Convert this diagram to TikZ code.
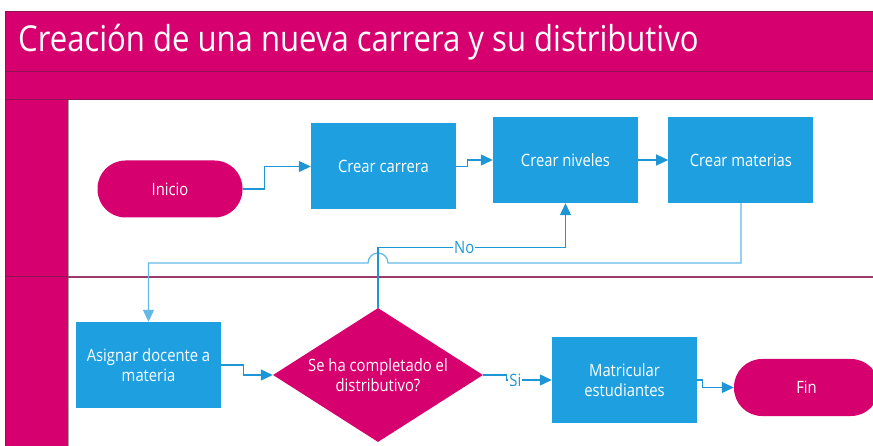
\documentclass[tikz,border=0pt]{standalone}
\usepackage{fontspec}
\setmainfont[FakeStretch=0.87]{Open Sans}
\usepackage{tikz}
\usetikzlibrary{shapes.geometric, arrows.meta, positioning, calc}

\definecolor{rosa}{HTML}{D6006E}
\definecolor{rosaosc}{HTML}{8A1450}
\definecolor{malva}{HTML}{9B3A6B}
\definecolor{azul}{HTML}{1EA0E0}
\definecolor{linea}{HTML}{1E96D6}
\definecolor{lineaclara}{HTML}{62B8E6}

\begin{document}
\begin{tikzpicture}[x=1pt, y=-1pt,
  proceso/.style={rectangle, fill=azul, minimum width=145pt, minimum height=86pt, text=white, align=center, font=\fontsize{17}{20}\selectfont},
  terminal/.style={rectangle, rounded corners=28pt, fill=rosa, minimum width=145pt, minimum height=57pt, text=white, font=\fontsize{17}{20}\selectfont},
  decision/.style={diamond, aspect=1.57, inner sep=0pt, fill=rosa, minimum width=210pt, minimum height=134pt, text=white, align=center, font=\fontsize{17}{20}\selectfont},
  flecha/.style={draw=linea, line width=1.2pt, -{Triangle[length=12pt, width=11pt]}},
  etiqueta/.style={fill=white, text=linea, inner sep=1pt, font=\fontsize{17}{20}\selectfont}]
\useasboundingbox (0,0) rectangle (873,446);

% Marco y carriles
\fill[rosa] (5,12) rectangle (880,100);
\fill[rosa] (5,100) rectangle (68,446);
\draw[rosaosc, line width=1pt] (5,12) -- (880,12) (5,72) -- (880,72) (5,100) -- (880,100) (5,12) -- (5,446);
\draw[gray!70] (68,100) -- (68,446);
\draw[malva, line width=2pt] (68,277) -- (880,277);
\draw[rosaosc, line width=1pt] (5,277) -- (68,277);
\node[anchor=base west, inner sep=0pt, text=white, font=\fontsize{35.7}{40}\selectfont] (titulo) at (18,52) {Creación de una nueva carrera y su distributivo};

% Nodos
\node[terminal] (inicio) at (170,189) {Inicio};
\node[proceso] (carrera) at (383.5,166.5) {Crear carrera};
\node[proceso] (niveles) at (565.5,160) {Crear niveles};
\node[proceso, right=30pt of niveles] (materias) {Crear materias};
\node[proceso] (asignar) at (148.5,365) {Asignar docente a\\materia};
\node[decision] (completo) at (378,375) {Se ha completado el\\distributivo?};
\node[proceso] (matricular) at (624.5,380) {Matricular\\estudiantes};
\node[terminal] (fin) at (806.5,387.5) {Fin};

% Conectores
\draw[flecha] (inicio.east) -- ++(22,0) |- (carrera.west);
\draw[flecha] (carrera.east) -- ++(11,0) |- (niveles.west);
\draw[flecha] (niveles) -- (materias);
\coordinate (salto) at (388,263);
\draw[flecha, draw=lineaclara] (materias.south) |- (salto) arc[start angle=0, end angle=180, radius=10pt] -| (asignar.north);
\draw[flecha] (completo.north) -- ++(0,-60) -| node[etiqueta, pos=0.23] {No} (niveles.south);
\draw[flecha] (asignar.east) -- ++(22,0) |- (completo.west);
\draw[flecha] (completo.east) -- ++(23,0) |- node[etiqueta, pos=0.6] {Si} (matricular.west);
\draw[flecha] (matricular.east) -- ++(5,0) |- (fin.west);
\end{tikzpicture}
\end{document}
